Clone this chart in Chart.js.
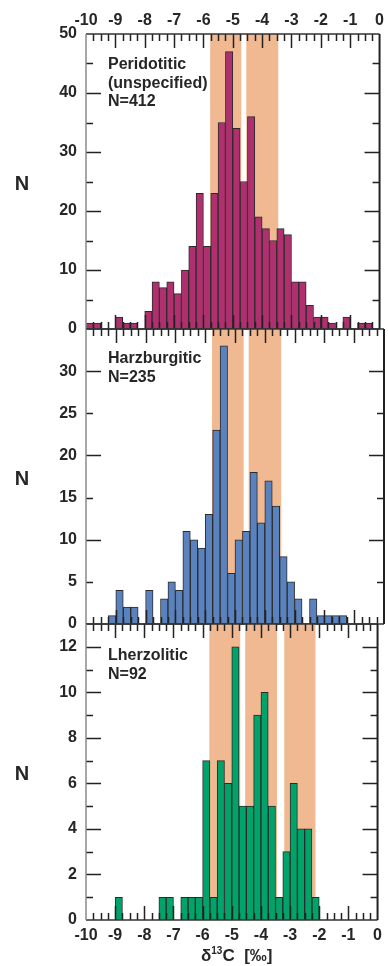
<!DOCTYPE html>
<html>
<head>
<meta charset="utf-8">
<title>delta13C histograms</title>
<script src="https://cdn.jsdelivr.net/npm/chart.js@4.4.1/dist/chart.umd.min.js"></script>
<style>
  html, body { margin: 0; padding: 0; background: #fff; }
  #wrap { position: relative; width: 388px; height: 966px; overflow: hidden;
          font-family: "Liberation Sans", Arial, sans-serif; color: #262626; }
  #wrap canvas { position: absolute; left: 0; top: 0; }
  .note { position: absolute; left: 108px; z-index: 5; font-weight: bold; font-size: 16px;
          line-height: 18.5px; white-space: nowrap; }
  .nlab { position: absolute; left: 11px; width: 22px; z-index: 5; text-align: center;
          font-weight: bold; font-size: 20px; line-height: 20px; }
  #xtitle { position: absolute; left: 201px; top: 947px; z-index: 5; font-weight: bold;
            font-size: 17px; line-height: 18px; white-space: nowrap; }
  #xtitle sup { font-size: 10px; line-height: 0; }
</style>
</head>
<body>
<div id="wrap">
  <canvas id="c1" width="388" height="966"></canvas>
  <canvas id="c2" width="388" height="966"></canvas>
  <canvas id="c3" width="388" height="966"></canvas>

  <div class="note" style="top:55px">Peridotitic<br>(unspecified)<br>N=412</div>
  <div class="note" style="top:349px">Harzburgitic<br>N=235</div>
  <div class="note" style="top:646px">Lherzolitic<br>N=92</div>

  <div class="nlab" style="top:173px">N</div>
  <div class="nlab" style="top:468px">N</div>
  <div class="nlab" style="top:763px">N</div>

  <div id="xtitle">δ<sup>13</sup>C&nbsp;&nbsp;[‰]</div>
</div>

<script>
// lower edge of each 0.25 permil bin
const binStarts = [
  -10, -9.75, -9.5, -9.25, -9, -8.75, -8.5, -8.25,
  -8, -7.75, -7.5, -7.25, -7, -6.75, -6.5, -6.25,
  -6, -5.75, -5.5, -5.25, -5, -4.75, -4.5, -4.25,
  -4, -3.75, -3.5, -3.25, -3, -2.75, -2.5, -2.25,
  -2, -1.75, -1.5, -1.25, -1, -0.75, -0.5, -0.25
];
const binWidth = 0.25;

const peridotitic = [
  1, 1, 0, 0, 2, 1, 1, 0, 3, 8, 7, 8, 6, 10, 14, 23, 14, 23, 35, 47,
  34, 25, 36, 19, 17, 15, 17, 16, 8, 8, 4, 2, 2, 1, 0, 2, 0, 1, 1, 0
];
const harzburgitic = [
  0, 0, 0, 1, 4, 2, 2, 0, 4, 0, 3, 5, 4, 11, 10, 9, 13, 23, 33, 6,
  10, 11, 18, 12, 17, 14, 8, 5, 3, 0, 3, 1, 1, 1, 1, 0, 0, 0, 0, 0
];
const lherzolitic = [
  0, 0, 0, 0, 1, 0, 0, 0, 0, 0, 1, 1, 0, 1, 1, 1, 7, 1, 7, 6,
  12, 5, 5, 9, 10, 5, 1, 3, 6, 4, 4, 1, 0, 0, 0, 0, 0, 0, 0, 0
];

// shaded delta13C ranges
const bandsUpper = [[-5.77, -4.71], [-4.54, -3.45]];
const bandsLower = [[-5.77, -4.71], [-4.54, -3.45], [-3.2, -2.13]];

const xTicks = [-10, -9, -8, -7, -6, -5, -4, -3, -2, -1, 0];

const FONT = '"Liberation Sans", Arial, sans-serif';
const INK = "#262626";
const BAND = "#f0b991";

Chart.defaults.font.family = FONT;
Chart.defaults.color = INK;

// shaded bands behind the bars, inward ticks and frame on top
const panelDecor = {
  id: "panelDecor",
  beforeDatasetsDraw(chart, args, opts) {
    const { ctx, chartArea: a, scales: { x } } = chart;
    ctx.save();
    ctx.fillStyle = BAND;
    opts.bands.forEach(([from, to]) => {
      const x0 = x.getPixelForValue(from);
      const x1 = x.getPixelForValue(to);
      ctx.fillRect(x0, a.top, x1 - x0, a.bottom - a.top);
    });
    ctx.restore();
  },
  afterDatasetsDraw(chart, args, opts) {
    const { ctx, chartArea: a, scales: { x, y } } = chart;
    ctx.save();
    ctx.strokeStyle = "#222";
    ctx.lineWidth = 1.5;
    ctx.beginPath();
    // x ticks every quarter permil, top and bottom edge
    for (let i = 1; i < 40; i++) {
      const px = Math.round(x.getPixelForValue(-10 + i * binWidth)) + 0.5;
      const len = i % 4 === 0 ? 14 : 7;
      ctx.moveTo(px, a.top);
      ctx.lineTo(px, a.top + len);
      ctx.moveTo(px, a.bottom);
      ctx.lineTo(px, a.bottom - len);
    }
    // y ticks, left and right edge
    for (let k = 1; k * opts.tickStep < y.max; k++) {
      const py = Math.round(y.getPixelForValue(k * opts.tickStep)) + 0.5;
      const len = k % opts.majorEvery === 0 ? 15 : 7;
      ctx.moveTo(a.left, py);
      ctx.lineTo(a.left + len, py);
      ctx.moveTo(a.right, py);
      ctx.lineTo(a.right - len, py);
    }
    ctx.stroke();

    // frame
    ctx.lineWidth = 1.5;
    ctx.strokeStyle = "#333";
    ctx.beginPath();
    ctx.moveTo(a.left, a.top);
    ctx.lineTo(a.right, a.top);
    ctx.moveTo(a.left, a.bottom);
    ctx.lineTo(a.right, a.bottom);
    ctx.stroke();
    ctx.strokeStyle = "#8a8a8a";
    ctx.beginPath();
    ctx.moveTo(a.left, a.top);
    ctx.lineTo(a.left, a.bottom);
    ctx.stroke();
    ctx.strokeStyle = "#222";
    ctx.lineWidth = 2;
    ctx.beginPath();
    ctx.moveTo(a.right, a.top);
    ctx.lineTo(a.right, a.bottom);
    ctx.stroke();
    ctx.restore();
  },
};

const buildChart = (id, cfg) => {
  const ctx = document.getElementById(id).getContext("2d");
  const data = binStarts.map((start, i) => ({ x: start + binWidth / 2, y: cfg.counts[i] }));

  return new Chart(ctx, {
    type: "bar",
    data: {
      datasets: [
        {
          data,
          backgroundColor: cfg.color,
          borderColor: "#2b2b2b",
          borderWidth: 1,
          barPercentage: 1,
          categoryPercentage: 1,
        },
      ],
    },
    options: {
      responsive: false,
      animation: false,
      devicePixelRatio: 1,
      layout: { padding: cfg.padding },
      plugins: {
        legend: { display: false },
        tooltip: { enabled: false },
        panelDecor: { bands: cfg.bands, tickStep: cfg.tickStep, majorEvery: cfg.majorEvery },
      },
      scales: {
        x: {
          type: "linear",
          position: cfg.xPosition || "bottom",
          display: cfg.xLabels,
          min: -10,
          max: 0,
          offset: false,
          grid: { display: false, drawTicks: false },
          border: { display: false },
          afterBuildTicks: (s) => { s.ticks = xTicks.map((v) => ({ value: v })); },
          afterFit: (s) => { s.height = cfg.xHeight || 0; },
          ticks: {
            padding: cfg.xPadding,
            maxRotation: 0,
            autoSkip: false,
            font: { size: 16, weight: "bold" },
            color: INK,
          },
        },
        y: {
          min: 0,
          max: cfg.yMax,
          grid: { display: false, drawTicks: false },
          border: { display: false },
          afterFit: (s) => { s.width = 86; },
          ticks: {
            stepSize: cfg.yStep,
            includeBounds: false,
            padding: 9,
            font: { size: 16, weight: "bold" },
            color: INK,
            // the top value of a panel sits on the panel above's zero
            callback: (v) => (cfg.hideTop && v === cfg.yMax ? "" : v),
          },
        },
      },
    },
    plugins: [panelDecor],
  });
};

buildChart("c1", {
  counts: peridotitic,
  color: "#b0306f",
  bands: bandsUpper,
  yMax: 50,
  yStep: 10,
  tickStep: 5,
  majorEvery: 2,
  xLabels: true,
  xPosition: "top",
  xHeight: 34,
  xPadding: 4,
  padding: { left: 0, right: 4, top: 0, bottom: 966 - 329 },
});

buildChart("c2", {
  counts: harzburgitic,
  color: "#5a82be",
  bands: bandsUpper,
  yMax: 35,
  yStep: 5,
  hideTop: true,
  tickStep: 5,
  majorEvery: 2,
  xLabels: false,
  padding: { left: 0, right: 4, top: 329, bottom: 966 - 624 },
});

buildChart("c3", {
  counts: lherzolitic,
  color: "#00a46a",
  bands: bandsLower,
  yMax: 13,
  yStep: 2,
  hideTop: true,
  tickStep: 1,
  majorEvery: 2,
  xLabels: true,
  xPosition: "bottom",
  xHeight: 46,
  xPadding: 6,
  padding: { left: 0, right: 4, top: 624, bottom: 0 },
});
</script>
</body>
</html>
